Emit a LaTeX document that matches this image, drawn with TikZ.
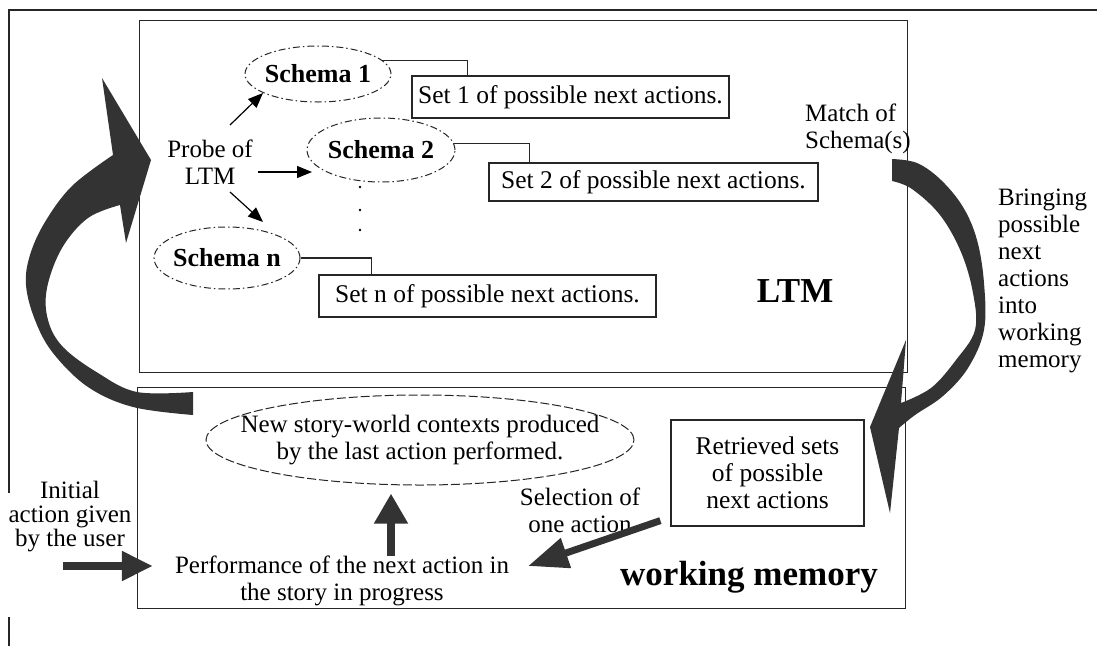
\documentclass[tikz,border=0pt]{standalone}
\usepackage{fontspec}
\setmainfont{Liberation Serif}
\usetikzlibrary{shapes.geometric,arrows.meta}
\begin{document}
\begin{tikzpicture}[x=1pt,y=-1pt,
  frame/.style={draw=black!85, line width=1.3pt},
  region/.style={draw=black!85, line width=1.3pt, rectangle, inner sep=0pt},
  setbox/.style={draw=black!85, line width=1.2pt, rectangle, inner sep=0pt, font=\fontsize{25.5}{27}\selectfont},
  txt/.style={inner sep=0pt, font=\fontsize{25}{27}\selectfont, align=center},
  bigtxt/.style={inner sep=0pt, font=\bfseries\fontsize{35}{38}\selectfont},
  schema/.style={ellipse, draw=black!85, line width=1pt, dash pattern=on 7pt off 3pt on 1.5pt off 3pt, inner xsep=-5pt, inner ysep=0pt, font=\bfseries\fontsize{26}{28}\selectfont},
  conn/.style={draw=black!85, line width=1.1pt},
  tarrow/.style={draw=black, line width=1.2pt, -{Triangle[length=15pt,width=12pt]}},
  bigfill/.style={fill=black!80},
  tharrow/.style={draw=black!80, line width=8pt, -{Triangle[length=30pt,width=32pt]}}
]
\path[use as bounding box, fill=white] (0,0) rectangle (1097,646);

% outer frame
\draw[frame] (9,646) -- (9,617);
\draw[frame] (9,493) -- (9,10) -- (1097,10);

% regions
\node[region, anchor=north west, minimum width=768pt, minimum height=352pt] (ltm) at (139,20) {};
\node[region, anchor=north west, minimum width=768pt, minimum height=221pt] (wm) at (137,387) {};
\node[bigtxt] (ltmlabel) at (795,291) {LTM};
\node[bigtxt] (wmlabel) at (749,577) {working memory};

% schemas
\node[schema, minimum width=146pt, minimum height=56pt] (s1) at (318,74) {Schema 1};
\node[schema, minimum width=148pt, minimum height=64pt] (s2) at (381,150) {Schema 2};
\node[schema, minimum width=146pt, minimum height=62pt] (sn) at (227,258) {Schema n};

% sets
\node[setbox, minimum width=317pt, minimum height=42pt] (set1) at (570.5,97) {Set 1 of possible next actions.};
\node[setbox, minimum width=329pt, minimum height=38pt] (set2) at (653.5,182) {Set 2 of possible next actions.};
\node[setbox, minimum width=337pt, minimum height=42pt] (setn) at (487.5,296) {Set n of possible next actions.};

\draw[conn] (s1.12) -| ([xshift=56pt]set1.north west);
\draw[conn] (s2.5) -| ([xshift=41pt]set2.north west);
\draw[conn] (sn.east) -| ([xshift=53pt]setn.north west);

% dots
\fill (360,187) circle (1.3pt);
\fill (360,210) circle (1.3pt);
\fill (360,230) circle (1.3pt);

% probe
\node[txt] (probe) at (210,162) {Probe of\\LTM};
\draw[tarrow] ([shift={(20,-37)}]probe.center) -- ([shift={(-55,19)}]s1.center);
\draw[tarrow] ([shift={(48,10)}]probe.center) -- ([shift={(-69,22)}]s2.center);
\draw[tarrow] ([shift={(20,30)}]probe.center) -- ([shift={(36,-36)}]sn.center);

\node[txt, anchor=west, align=left] (match) at (805,129) {Match of\\Schema(s)};
\node[txt, anchor=west, align=left] (bring) at (998,281) {Bringing\\possible\\next\\actions\\into\\working\\memory};

% working memory contents
\node[txt, ellipse, draw=black!85, line width=1pt, dash pattern=on 9pt off 3pt, inner xsep=-40pt, inner ysep=0pt,
      minimum width=428pt, minimum height=90pt] (ctx) at (420,440)
      {New story-world contexts produced\\by the last action performed.};
\node[txt] (perf) at (342,581) {Performance of the next action in\\the story in progress};
\node[setbox, minimum width=193pt, minimum height=106pt, align=center] (ret) at (767.5,473) {Retrieved sets\\of possible\\next actions};
\node[txt] (sel) at (580,510) {Selection of\\one action};
\node[txt, font=\fontsize{25}{24}\selectfont] (init) at (70,517) {Initial\\action given\\by the user};

\coordinate (ux) at (391,0);
\coordinate (iniA) at (63,566);
\draw[tharrow, shorten >=8pt] (perf.north -| ux) -- (ctx.south -| ux);
\draw[draw=black!80, line width=8pt, -{Triangle[length=31pt,width=28pt]}, shorten >=22pt] (iniA) -- (perf.west |- iniA);
\draw[draw=black!80, line width=7pt, -{Triangle[length=40pt,width=30pt]}] ([shift={(-10,-6)}]ret.south west) -- ([shift={(19,-15)}]perf.east);

% big curved arrows
\fill[bigfill] plot[smooth, tension=0.6] coordinates {(193,415) (133,407) (88,387) (53,353) (35,320) (26,285) (30,255) (45,222) (72,186) (113,155)}
  -- (102,78) -- (151,160) -- (126,243) -- (120,205)
  -- plot[smooth, tension=0.6] coordinates {(120,205) (88,218) (62,248) (47,288) (48,320) (63,347) (98,373) (137,392) (193,392)} -- cycle;
\fill[bigfill] plot[smooth, tension=0.6] coordinates {(892,159) (917,163) (941,180) (963,207) (977,240) (984,283) (984,330) (968,368) (943,396) (915,415) (899,428)}
  -- (890,513) -- (870,427) -- (906,340) -- (901,403)
  -- plot[smooth, tension=0.6] coordinates {(901,403) (931,388) (956,360) (975,330) (973,293) (961,252) (940,215) (912,189) (892,181)} -- cycle;
\end{tikzpicture}
\end{document}
